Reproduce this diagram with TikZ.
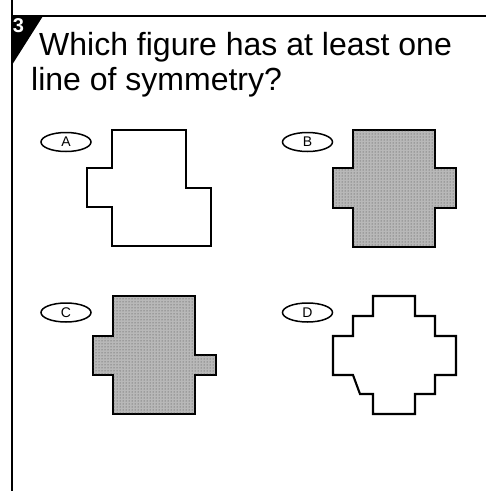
\documentclass[tikz,border=0pt]{standalone}
\usepackage{fontspec}
\setmainfont{Liberation Sans}
\usetikzlibrary{shapes.geometric,patterns,positioning}

\begin{document}
\begin{tikzpicture}[
  x=1pt,y=-1pt,
  every node/.style={inner sep=0pt},
  rule/.style={line width=2.6pt,color=black},
  badge/.style={fill=black},
  question/.style={font=\fontsize{32}{35}\selectfont,anchor=base west},
  choice/.style={draw,ellipse,line width=1.5pt,minimum width=50pt,minimum height=19pt,font=\fontsize{14}{14}\selectfont},
  outline/.style={draw,line width=2.1pt,line join=miter},
  shaded/.style={outline,fill=black!28,postaction={pattern=dots,pattern color=black!75}}
]
\useasboundingbox (0,0) rectangle (486,491);
\draw[rule] (12,0) -- (12,491);
\draw[rule] (12,16) -- (486,16);
\fill[badge] (12,16) -- (43,16) -- (12,65) -- cycle;
\node[text=white,font=\bfseries\fontsize{20}{20}\selectfont] (num) at (18.5,26) {3};
\node[question] (line1) at (39,55) {Which figure has at least one};
\node[question] (line2) at (31,90) {line of symmetry?};
\node[choice] (optA) at (66,142) {A};
\node[choice,right=190pt of optA] (optB) {B};
\node[choice,below=150pt of optA] (optC) {C};
\node[choice,right=190pt of optC] (optD) {D};
\draw[outline] (112,130) -- (186,130) -- (186,188) -- (211,188) -- (211,246) -- (112,246)
  -- (112,207) -- (87,207) -- (87,168) -- (112,168) -- cycle;
\draw[shaded] (353,130) -- (435,130) -- (435,168) -- (456,168) -- (456,208) -- (435,208)
  -- (435,247) -- (353,247) -- (353,208) -- (333,208) -- (333,168) -- (353,168) -- cycle;
\draw[shaded] (113,296) -- (195,296) -- (195,355) -- (216,355) -- (216,375) -- (195,375)
  -- (195,414) -- (113,414) -- (113,375) -- (93,375) -- (93,336) -- (113,336) -- cycle;
\draw[outline] (373,296) -- (415,296) -- (415,316) -- (435,316) -- (435,336) -- (456,336)
  -- (456,375) -- (435,375) -- (435,394) -- (415,394) -- (415,414) -- (373,414) -- (373,394)
  -- (360,394) -- (353,375) -- (333,375) -- (333,336) -- (353,336) -- (353,316) -- (373,316) -- cycle;
\end{tikzpicture}
\end{document}
